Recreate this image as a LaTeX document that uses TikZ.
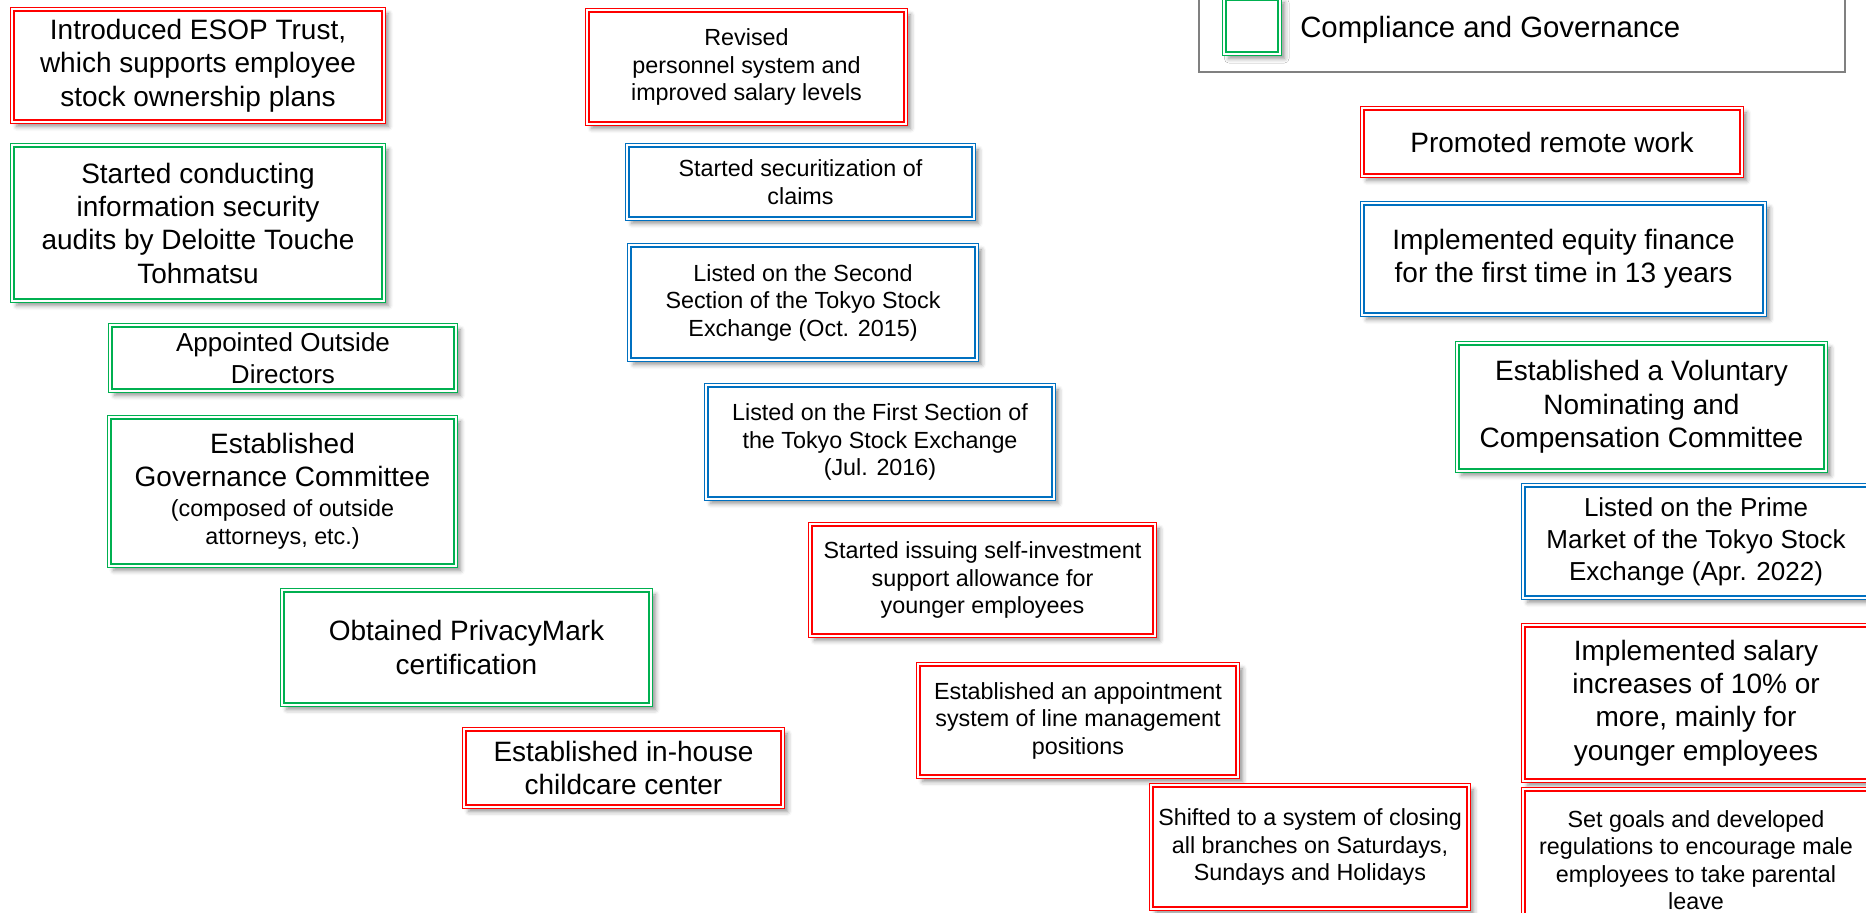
\documentclass[tikz,border=0pt]{standalone}
\usepackage{fontspec}
\setmainfont{Liberation Sans}
\usetikzlibrary{positioning, shadows.blur}
\definecolor{evred}  {RGB}{255,0,0}
\definecolor{evgreen}{RGB}{0,176,80}
\definecolor{evblue} {RGB}{0,112,192}
\definecolor{lgdgray}{RGB}{128,128,128}

\newcommand{\evlarge}{\fontsize{21pt}{25pt}\selectfont}
\newcommand{\evmidlarge}{\fontsize{19.5pt}{24pt}\selectfont}
\newcommand{\evmid}{\fontsize{17.5pt}{20.6pt}\selectfont}

\tikzset{
  evbox/.style={draw=#1, double=white, line width=0.9pt, double distance=1.6pt,
                fill=white, align=center, inner sep=0pt,
                blur shadow={shadow xshift=3.5pt, shadow yshift=-3.5pt,
                             shadow blur radius=3.5pt, shadow opacity=45}},
  redbox/.style={evbox=evred},
  greenbox/.style={evbox=evgreen},
  bluebox/.style={evbox=evblue},
  % sizes given in pixels of the final page, outer edge of the double line
  boxsize/.style 2 args={minimum width=#1*0.75pt-3.4pt,
                         minimum height=#2*0.75pt-3.4pt},
}

\begin{document}
\begin{tikzpicture}[x=0.75pt, y=-0.75pt]
  \useasboundingbox (0,0) rectangle (1866,913);

  % legend (only its last row is on the page)
  \node[draw=lgdgray, line width=1.6pt, fill=white, minimum width=646*0.75pt,
        minimum height=102*0.75pt, inner sep=0pt] (legend) at (1522,21) {};
  \node[greenbox, boxsize={60}{60}] (lgdkey) at (1252,26) {};
  \node[anchor=base west, font=\fontsize{22pt}{26pt}\selectfont,
        inner sep=0pt] (lgdtext) at (1300,38) {Compliance and Governance};

  % first column
  \node[redbox, boxsize={376}{117}, font=\evlarge] (esop) at (198,65.5)
    {Introduced ESOP Trust,\\which supports employee\\stock ownership plans};
  \node[greenbox, boxsize={376}{160}, font=\evlarge] (audits) at (198,223)
    {Started conducting\\information security\\audits by Deloitte Touche\\Tohmatsu};
  \node[greenbox, boxsize={350}{70}, font=\evmidlarge] (outside) at (283,358)
    {Appointed Outside\\Directors};
  \node[greenbox, boxsize={351}{153}, font=\evlarge] (govcom) at (282.5,491.5)
    {Established\\Governance Committee\\[-2.5pt]{\evmid (composed of outside}\\[-4pt]{\evmid attorneys, etc.)}};
  \node[greenbox, boxsize={373}{119}, font=\evlarge] (privacy) at (466.5,647.5)
    {Obtained PrivacyMark\\certification};
  \node[redbox, boxsize={323}{82}, font=\evlarge] (childcare) at (623.5,768)
    {Established in-house\\childcare center};

  % second column
  \node[redbox, boxsize={323}{118}, font=\evmid] (revised) at (746.5,67)
    {Revised\\personnel system and\\improved salary levels};
  \node[bluebox, boxsize={351}{78}, font=\evmid] (securit) at (800.5,182)
    {Started securitization of\\claims};
  \node[bluebox, boxsize={352}{119}, font=\evmid] (second) at (803,302.5)
    {Listed on the Second\\Section of the Tokyo Stock\\Exchange (Oct. 2015)};
  \node[bluebox, boxsize={352}{118}, font=\evmid] (first) at (880,442)
    {Listed on the First Section of\\the Tokyo Stock Exchange\\(Jul. 2016)};
  \node[redbox, boxsize={349}{116}, font=\evmid] (selfinv) at (982.5,580)
    {Started issuing self-investment\\support allowance for\\younger employees};
  \node[redbox, boxsize={324}{117}, font=\evmid] (linemgmt) at (1078,720.5)
    {Established an appointment\\system of line management\\positions};
  \node[redbox, boxsize={322}{128}, font=\evmid] (closing) at (1310,847)
    {Shifted to a system of closing\\all branches on Saturdays,\\Sundays and Holidays};

  % third column
  \node[redbox, boxsize={384}{72}, font=\evlarge] (remote) at (1552,142)
    {Promoted remote work};
  \node[bluebox, boxsize={407}{116}, font=\evlarge] (equity) at (1563.5,259)
    {Implemented equity finance\\for the first time in 13 years};
  \node[greenbox, boxsize={373}{132}, font=\evlarge] (voluntary) at (1641.5,407)
    {Established a Voluntary\\Nominating and\\Compensation Committee};
  \node[bluebox, boxsize={350}{117}, font=\evmidlarge] (prime) at (1696,541.5)
    {Listed on the Prime\\Market of the Tokyo Stock\\Exchange (Apr. 2022)};
  \node[redbox, boxsize={350}{160}, font=\evlarge] (salary) at (1696,703)
    {Implemented salary\\increases of 10\% or\\more, mainly for\\younger employees};
  \node[redbox, boxsize={350}{146}, font=\evmid] (parental) at (1696,860)
    {Set goals and developed\\regulations to encourage male\\employees to take parental\\leave};
\end{tikzpicture}
\end{document}
